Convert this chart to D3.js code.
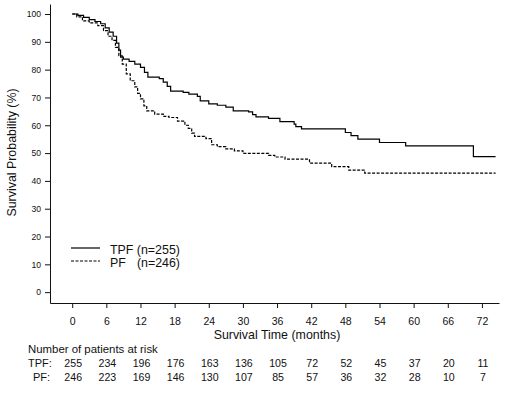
<!DOCTYPE html>
<html>
<head>
<meta charset="utf-8">
<style>
  body { margin: 0; background: #fff; }
  svg text { font-family: "Liberation Sans", Arial, sans-serif; fill: #111; }
</style>
</head>
<body>
<svg width="505" height="393"></svg>
<script src="https://d3js.org/d3.v7.min.js"></script>
<script>
// Kaplan-Meier steps: [month, survival %]
var tpfSteps = [
  [0,100],[1,99.5],[2,98.8],[3,98],[4,97.3],[5,96.5],[5.8,95],[6.5,93.5],[7.2,92],
  [7.8,89.5],[8.2,87],[8.5,84.5],[9,83.8],[10,83],[11,82],[12,80.8],[12.7,79],
  [13.3,77.3],[15.3,76.8],[16,75.5],[16.7,74],[17.3,72.3],[19.5,71.8],[20.5,71.2],
  [22,70.4],[22.5,68.8],[24,67.7],[25.5,67.2],[27,66.5],[28.3,65.2],[31,64.8],
  [31.7,63.8],[32.3,63],[34.5,62.5],[36.5,61.3],[39,60.4],[39.3,59.5],[40.3,58.7],
  [48,57.4],[49,56.3],[50.2,55],[54,53.8],[58.6,52.6],[70.5,48.7],[74.4,48.7]
];
var pfSteps = [
  [0,100],[0.8,99],[1.8,97.5],[3,96.8],[4.5,95.8],[5.5,94],[6.3,92],[7,90.5],
  [7.6,88],[8.2,85],[8.8,82],[9.5,78.5],[10.2,76],[11,73.8],[11.5,71.5],[12,69.5],
  [12.6,67],[13.1,65.2],[14.5,64],[16,63.2],[17,62.8],[18.5,61.5],[19.8,60],
  [20.4,58.9],[21,57.2],[21.5,56],[23.5,55.2],[24.5,53],[25.5,52.3],[27,51.5],
  [28.5,50.8],[30,49.9],[34.5,49.2],[35.6,48.6],[37.4,47.8],[41.7,46.4],[45.6,45.1],
  [48.6,43.9],[51.4,42.8],[74.4,42.8]
];
var xTicks = [0, 6, 12, 18, 24, 30, 36, 42, 48, 54, 60, 66, 72];
var yTicks = [0, 10, 20, 30, 40, 50, 60, 70, 80, 90, 100];
var tpfRisk = [255, 234, 196, 176, 163, 136, 105, 72, 52, 45, 37, 20, 11];
var pfRisk = [246, 223, 169, 146, 130, 107, 85, 57, 36, 32, 28, 10, 7];

var svg = d3.select('svg');

// scales: plot box runs from x=50 to 499, y=4 to 303
var x = d3.scaleLinear().domain([-3.9, 75]).range([50, 499]);
var y = d3.scaleLinear().domain([-3.9, 103.6]).range([303, 4]);

var xAxis = svg.append('g')
  .attr('transform', 'translate(0,303)')
  .call(d3.axisBottom(x).tickValues(xTicks).tickSize(5).tickSizeOuter(0).tickPadding(10));
var yAxis = svg.append('g')
  .attr('transform', 'translate(50,0)')
  .call(d3.axisLeft(y).tickValues(yTicks).tickSize(5).tickSizeOuter(0).tickPadding(4));

xAxis.selectAll('text').attr('font-size', 10.5);
yAxis.selectAll('text').attr('font-size', 8.6);
[xAxis, yAxis].forEach(function (a) {
  a.selectAll('text').attr('font-family', '"Liberation Sans", Arial, sans-serif').attr('fill', '#111');
  a.selectAll('path, line').attr('stroke', '#111');
});

// axis titles
svg.append('text')
  .attr('x', 277).attr('y', 339)
  .attr('text-anchor', 'middle')
  .attr('font-size', 12.4)
  .text('Survival Time (months)');
svg.append('text')
  .attr('transform', 'translate(15.5,152.5) rotate(-90)')
  .attr('text-anchor', 'middle')
  .attr('font-size', 12.4)
  .text('Survival Probability (%)');

// curves
var line = d3.line()
  .x(function (d) { return x(d[0]); })
  .y(function (d) { return y(d[1]); })
  .curve(d3.curveStepAfter);

svg.append('path')
  .datum(tpfSteps)
  .attr('fill', 'none')
  .attr('stroke', '#000')
  .attr('stroke-width', 1.2)
  .attr('d', line);
svg.append('path')
  .datum(pfSteps)
  .attr('fill', 'none')
  .attr('stroke', '#000')
  .attr('stroke-width', 1.2)
  .attr('stroke-dasharray', '3,1.5')
  .attr('d', line);

// legend
var legend = svg.append('g');
legend.append('line')
  .attr('x1', 71).attr('x2', 100).attr('y1', 248).attr('y2', 248)
  .attr('stroke', '#000').attr('stroke-width', 1.2);
legend.append('line')
  .attr('x1', 71).attr('x2', 100).attr('y1', 261).attr('y2', 261)
  .attr('stroke', '#000').attr('stroke-width', 1.2).attr('stroke-dasharray', '3,1.5');
legend.append('text').attr('x', 110).attr('y', 254).attr('font-size', 12.4).text('TPF (n=255)');
legend.append('text').attr('x', 110).attr('y', 266.5).attr('font-size', 12.4).text('PF');
legend.append('text').attr('x', 180).attr('y', 266.5).attr('text-anchor', 'end')
  .attr('font-size', 12.4).text('(n=246)');

// number at risk table
svg.append('text').attr('x', 28).attr('y', 353).attr('font-size', 11.4).text('Number of patients at risk');
svg.append('text').attr('x', 28).attr('y', 367).attr('font-size', 11).text('TPF:');
svg.append('text').attr('x', 33).attr('y', 381).attr('font-size', 11).text('PF:');

svg.append('g').selectAll('text')
  .data(tpfRisk)
  .join('text')
  .attr('x', function (d, i) { return x(xTicks[i]) + 1; })
  .attr('y', 367)
  .attr('text-anchor', 'middle')
  .attr('font-size', 10.6)
  .text(function (d) { return d; });
svg.append('g').selectAll('text')
  .data(pfRisk)
  .join('text')
  .attr('x', function (d, i) { return x(xTicks[i]) + 1; })
  .attr('y', 381)
  .attr('text-anchor', 'middle')
  .attr('font-size', 10.6)
  .text(function (d) { return d; });
</script>
</body>
</html>
